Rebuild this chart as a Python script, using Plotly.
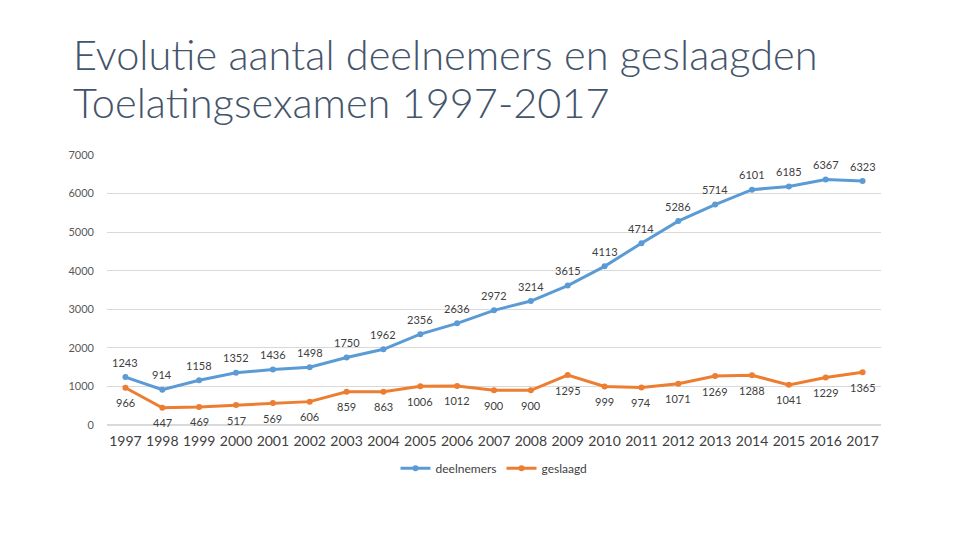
import plotly.graph_objects as go

years = [str(y) for y in range(1997, 2018)]
deelnemers = [1243, 914, 1158, 1352, 1436, 1498, 1750, 1962, 2356, 2636, 2972,
              3214, 3615, 4113, 4714, 5286, 5714, 6101, 6185, 6367, 6323]
geslaagd = [966, 447, 469, 517, 569, 606, 859, 863, 1006, 1012, 900,
            900, 1295, 999, 974, 1071, 1269, 1288, 1041, 1229, 1365]
y_ticks = [0, 1000, 2000, 3000, 4000, 5000, 6000, 7000]

FONT = "Lato"
fig = go.Figure()
fig.add_trace(go.Scatter(
    x=years, y=deelnemers, name="deelnemers", mode="lines+markers",
    line=dict(color="#5B9BD5", width=3), marker=dict(size=6, color="#5B9BD5"),
))
fig.add_trace(go.Scatter(
    x=years, y=geslaagd, name="geslaagd", mode="lines+markers",
    line=dict(color="#ED7D31", width=3), marker=dict(size=6, color="#ED7D31"),
))

annotations = []
for i, v in enumerate(deelnemers):
    annotations.append(dict(x=i, y=v, xref="x", yref="y", text=str(v), showarrow=False,
                            yshift=15, font=dict(family=FONT, size=11, color="#404040")))
for i, v in enumerate(geslaagd):
    annotations.append(dict(x=i, y=v, xref="x", yref="y", text=str(v), showarrow=False,
                            yshift=-15, font=dict(family=FONT, size=11, color="#404040")))

annotations += [
    dict(text="Evolutie aantal deelnemers en geslaagden", xref="paper", yref="paper",
         x=-36/774, y=1 + (147 - 46) / 270, xanchor="left", yanchor="middle", showarrow=False,
         font=dict(family=FONT, size=41.5, color="#44546A", weight=300)),
    dict(text="Toelatingsexamen 1997-2017", xref="paper", yref="paper",
         x=-36/774, y=1 + (147 - 94) / 270, xanchor="left", yanchor="middle", showarrow=False,
         font=dict(family=FONT, size=41.5, color="#44546A", weight=300)),
]

fig.update_layout(
    width=960, height=540,
    paper_bgcolor="white", plot_bgcolor="white",
    margin=dict(l=99, r=87, t=147, b=123),
    font=dict(family=FONT, color="#595959"),
    showlegend=True,
    legend=dict(orientation="h", x=0.5, xanchor="center", y=-0.16, yanchor="middle",
                itemwidth=30,
                font=dict(family=FONT, size=12, color="#404040")),
    xaxis=dict(type="category", range=[-0.5, 20.5], showgrid=False, showline=False, ticks="",
               tickfont=dict(family=FONT, size=14, color="#404040"), ticklabelstandoff=6),
    yaxis=dict(range=[0, 7000], tickvals=y_ticks, showgrid=True, gridcolor="#D9D9D9",
               zeroline=True, zerolinecolor="#D9D9D9", ticks="",
               tickfont=dict(family=FONT, size=11, color="#595959"), ticklabelstandoff=12),
    annotations=annotations,
)

fig.write_html("out.html")
